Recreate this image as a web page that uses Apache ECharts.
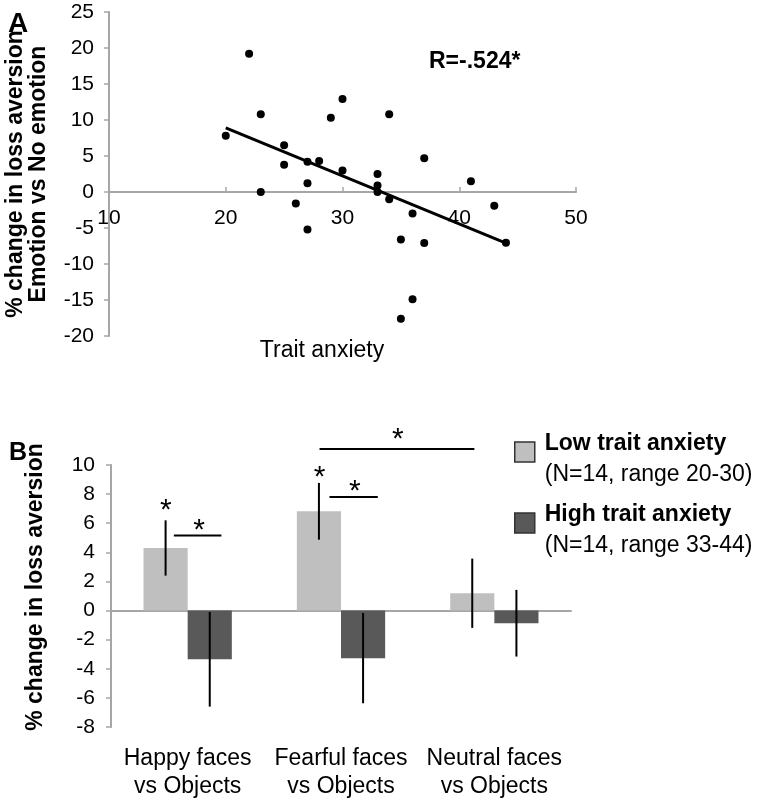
<!DOCTYPE html>
<html>
<head>
<meta charset="utf-8">
<script src="https://cdn.jsdelivr.net/npm/echarts@6/dist/echarts.min.js"></script>
<style>
  html, body { margin: 0; padding: 0; background: #fff; }
  #main { width: 764px; height: 801px; }
</style>
</head>
<body>
<div id="main"></div>
<script>
// panel A - scatter
var traitAnxiety = [20, 22, 23, 23, 25, 25, 26, 27, 27, 27, 28, 29, 30, 30, 33, 33, 33, 34, 34, 35, 35, 36, 36, 37, 37, 41, 43, 44];
var lossChange = [7.8, 19.2, 10.8, 0, 6.5, 3.8, -1.6, 4.2, 1.2, -5.2, 4.3, 10.3, 12.9, 3, 2.5, 0.9, 0, 10.8, -1, -6.6, -17.6, -3, -14.9, 4.7, -7.1, 1.5, -1.9, -7.05];
var trendX = [20, 44];
var trendY = [8.9, -7.1];

// panel B - bars
var categories = ['Happy faces\nvs Objects', 'Fearful faces\nvs Objects', 'Neutral faces\nvs Objects'];
var groupNames = ['Low trait anxiety', 'High trait anxiety'];
var groupNotes = ['(N=14, range 20-30)', '(N=14, range 33-44)'];
var lowMean = [4.3, 6.82, 1.19];
var lowErr = [1.9, 1.95, 2.38];
var highMean = [-3.35, -3.27, -0.87];
var highErr = [3.25, 3.1, 2.29];

// significance brackets / stars (x in category units, 0..3)
var bracketFrom = [0.41, 1.425, 1.36];
var bracketTo = [0.72, 1.74, 2.37];
var bracketY = [5.15, 7.8, 11.1];
var starX = [0.358, 0.575, 1.36, 1.59, 1.87];
var starY = [7.32, 5.95, 9.6, 8.67, 12.24];

var FONT = 'Liberation Sans, Arial, sans-serif';
var AXIS_GRAY = '#a6a6a6';
var BAR_HALF = 0.144; // half of bar width as fraction of band

var scatterData = traitAnxiety.map(function (x, i) { return [x, lossChange[i]]; });
var trendData = trendX.map(function (x, i) { return [x, trendY[i]]; });
var bracketData = bracketFrom.map(function (x, i) { return [x, bracketTo[i], bracketY[i]]; });
var starData = starX.map(function (x, i) { return [x, starY[i]]; });
var lowErrData = lowMean.map(function (m, i) { return [i, m, lowErr[i], -1]; });
var highErrData = highMean.map(function (m, i) { return [i, m, highErr[i], 1]; });

function renderErr(params, api) {
    var idx = api.value(0), m = api.value(1), e = api.value(2), side = api.value(3);
    var band = api.size([1, 0])[0];
    var x = api.coord([idx, m])[0] + side * band * BAR_HALF;
    var y1 = api.coord([idx, m + e])[1];
    var y2 = api.coord([idx, m - e])[1];
    return {
        type: 'line',
        shape: { x1: x, y1: y1, x2: x, y2: y2 },
        style: { stroke: '#000', lineWidth: 2 }
    };
}

var myChart = echarts.init(document.getElementById('main'));
var option = {
    backgroundColor: '#fff',
    animation: false,
    textStyle: { fontFamily: FONT },
    grid: [
        { left: 109, right: 188, top: 12, bottom: 465, outerBoundsMode: 'none', containLabel: false },
        { left: 111, right: 193, top: 465, bottom: 74, outerBoundsMode: 'none', containLabel: false }
    ],
    xAxis: [
        {
            gridIndex: 0, type: 'value', min: 10, max: 50, interval: 10,
            axisLine: { onZero: true, lineStyle: { color: AXIS_GRAY, width: 2 } },
            axisTick: { inside: true, length: 5, lineStyle: { color: AXIS_GRAY, width: 1.5 } },
            // labels sit under the zero line, not at the grid bottom
            axisLabel: { fontSize: 21, color: '#000', margin: -128, fontFamily: FONT },
            splitLine: { show: false }
        },
        {
            gridIndex: 1, type: 'category', data: categories,
            axisLine: { onZero: true, lineStyle: { color: AXIS_GRAY, width: 2 } },
            axisTick: { length: 5, lineStyle: { color: AXIS_GRAY, width: 1.5 } },
            axisLabel: { fontSize: 23, color: '#000', margin: 18, lineHeight: 28, interval: 0, fontFamily: FONT },
            splitLine: { show: false }
        },
        { gridIndex: 1, type: 'value', min: 0, max: 3, show: false }
    ],
    yAxis: [
        {
            gridIndex: 0, type: 'value', min: -20, max: 25, interval: 5,
            name: '% change in loss aversion\nEmotion vs No emotion',
            nameLocation: 'middle', nameRotate: 90, nameGap: 59,
            nameTextStyle: { fontSize: 23, fontWeight: 'bold', color: '#000', lineHeight: 23, fontFamily: FONT },
            axisLine: { show: true, lineStyle: { color: AXIS_GRAY, width: 2 } },
            axisTick: { show: true, length: 5, lineStyle: { color: AXIS_GRAY, width: 1.5 } },
            axisLabel: { fontSize: 21, color: '#000', margin: 15, fontFamily: FONT },
            splitLine: { show: false }
        },
        {
            gridIndex: 1, type: 'value', min: -8, max: 10, interval: 2,
            axisLine: { show: true, onZero: false, lineStyle: { color: AXIS_GRAY, width: 2 } },
            axisTick: { show: true, length: 5, lineStyle: { color: AXIS_GRAY, width: 1.5 } },
            axisLabel: { fontSize: 21, color: '#000', margin: 16, fontFamily: FONT },
            splitLine: { show: false }
        }
    ],
    legend: {
        orient: 'vertical', left: 509, top: 427,
        itemWidth: 20, itemHeight: 20, itemGap: 17,
        icon: 'rect',
        data: groupNames,
        itemStyle: { borderColor: '#333', borderWidth: 1.5 },
        formatter: function (name) {
            return '{b|' + name + '}\n{n|' + groupNotes[groupNames.indexOf(name)] + '}';
        },
        textStyle: {
            // top padding lifts the square above the middle of the two lines
            padding: [14, 0, 0, 5],
            rich: {
                b: { fontSize: 23, fontWeight: 'bold', color: '#000', lineHeight: 31, fontFamily: FONT },
                n: { fontSize: 23, color: '#000', lineHeight: 31, fontFamily: FONT }
            }
        }
    },
    graphic: [
        { type: 'text', left: 8, top: 10, style: { text: 'A', font: 'bold 28px ' + FONT, fill: '#000' } },
        { type: 'text', left: 9, top: 441, style: { text: 'B', font: 'bold 25px ' + FONT, fill: '#000' } },
        { type: 'text', left: 429, top: 50, style: { text: 'R=-.524*', font: 'bold 23px ' + FONT, fill: '#000' } },
        { type: 'text', x: 322, y: 351, style: { text: 'Trait anxiety', font: '23px ' + FONT, fill: '#000', align: 'center', verticalAlign: 'middle' } },
        { type: 'text', x: 36, y: 587, rotation: Math.PI / 2, style: { text: '% change in loss aversion', font: 'bold 23px ' + FONT, fill: '#000', align: 'center', verticalAlign: 'middle' } }
    ],
    series: [
        {
            type: 'scatter', xAxisIndex: 0, yAxisIndex: 0,
            data: scatterData, symbolSize: 8,
            itemStyle: { color: '#000', opacity: 1 }
        },
        {
            type: 'line', xAxisIndex: 0, yAxisIndex: 0,
            data: trendData, symbol: 'none',
            lineStyle: { color: '#000', width: 3 }
        },
        {
            name: groupNames[0], type: 'bar', xAxisIndex: 1, yAxisIndex: 1,
            data: lowMean, barWidth: '28.8%', barGap: '0%',
            itemStyle: { color: '#bfbfbf' }
        },
        {
            name: groupNames[1], type: 'bar', xAxisIndex: 1, yAxisIndex: 1,
            data: highMean, barWidth: '28.8%', barGap: '0%',
            itemStyle: { color: '#595959' }
        },
        {
            type: 'custom', xAxisIndex: 1, yAxisIndex: 1,
            data: lowErrData, renderItem: renderErr, z: 5
        },
        {
            type: 'custom', xAxisIndex: 1, yAxisIndex: 1,
            data: highErrData, renderItem: renderErr, z: 5
        },
        {
            // significance brackets
            type: 'custom', xAxisIndex: 2, yAxisIndex: 1, z: 5,
            data: bracketData,
            renderItem: function (params, api) {
                var p1 = api.coord([api.value(0), api.value(2)]);
                var p2 = api.coord([api.value(1), api.value(2)]);
                return {
                    type: 'line',
                    shape: { x1: p1[0], y1: p1[1], x2: p2[0], y2: p2[1] },
                    style: { stroke: '#000', lineWidth: 2 }
                };
            }
        },
        {
            // stars
            type: 'custom', xAxisIndex: 2, yAxisIndex: 1, z: 5,
            data: starData,
            renderItem: function (params, api) {
                var p = api.coord([api.value(0), api.value(1)]);
                return {
                    type: 'text',
                    x: p[0], y: p[1] + 7,
                    style: { text: '*', font: '30px ' + FONT, fill: '#000', align: 'center', verticalAlign: 'middle' }
                };
            }
        }
    ]
};
myChart.setOption(option);
</script>
</body>
</html>
